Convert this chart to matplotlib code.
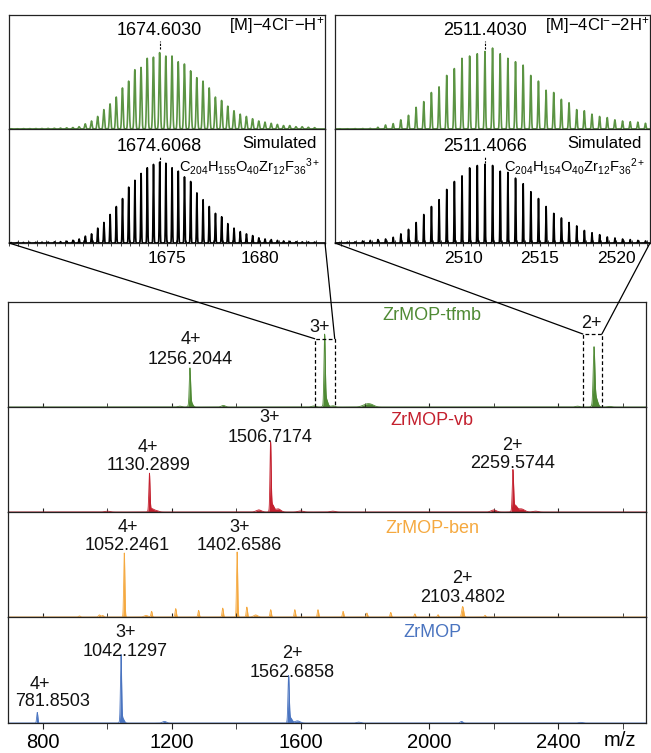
import numpy as np
import matplotlib
matplotlib.use('Agg')
import matplotlib.pyplot as plt
from matplotlib.patches import ConnectionPatch
from matplotlib.ticker import MultipleLocator, FixedLocator

plt.rcParams['font.family'] = ['Liberation Sans', 'DejaVu Sans']
plt.rcParams['mathtext.fontset'] = 'custom'
plt.rcParams['mathtext.rm'] = 'Liberation Sans'
plt.rcParams['mathtext.it'] = 'Liberation Sans:italic'
plt.rcParams['mathtext.bf'] = 'Liberation Sans:bold'

# ---------------- data ----------------
names = ['ZrMOP-tfmb', 'ZrMOP-vb', 'ZrMOP-ben', 'ZrMOP']
colors = ['#4f8a34', '#c4202e', '#f5a940', '#4a74c0']

# peak m/z, height, width (sigma, m/z)
tfmb_mz = [1256.2, 1259, 1674.6, 1679, 2511.4, 2516, 1225, 1360, 1640, 1700, 1805, 1820, 2460, 2560]
tfmb_h = [0.33, 0.05, 0.64, 0.08, 0.50, 0.10, 0.008, 0.015, 0.01, 0.012, 0.025, 0.015, 0.008, 0.006]
tfmb_w = [2.0, 5, 2.0, 5, 2.5, 6, 6, 6, 6, 6, 12, 10, 6, 6]

vb_mz = [1130.3, 1136, 1506.7, 1512, 1530, 2259.6, 2266, 2285, 1000, 1150, 1470, 1600, 1700, 2200, 2330]
vb_h = [0.35, 0.03, 0.63, 0.07, 0.03, 0.37, 0.06, 0.03, 0.008, 0.015, 0.02, 0.01, 0.008, 0.02, 0.008]
vb_w = [1.8, 6, 1.8, 5, 8, 2.0, 6, 10, 8, 8, 8, 8, 8, 8, 8]

ben_mz = [1052.2, 1402.7, 2103.5, 913, 975, 985, 1137, 1212, 1283, 1358, 1433,
          1507, 1582, 1654, 1732, 1806, 1880, 1955, 2027, 2173, 1120, 1460]
ben_h = [0.61, 0.62, 0.10, 0.01, 0.02, 0.015, 0.054, 0.08, 0.063, 0.085, 0.095,
         0.07, 0.07, 0.07, 0.054, 0.038, 0.044, 0.03, 0.022, 0.016, 0.015, 0.02]
ben_w = [1.8, 1.8, 3.0, 3, 3, 3, 2, 2, 2, 2, 2,
         2, 2, 2, 2, 2, 2, 2, 2, 2, 6, 6]

zr_mz = [781.9, 1042.1, 1046, 1562.7, 1568, 1590, 1177, 1780, 2100, 2470]
zr_h = [0.10, 0.61, 0.05, 0.42, 0.05, 0.02, 0.015, 0.008, 0.015, 0.006]
zr_w = [1.8, 1.8, 5, 2.0, 5, 8, 6, 6, 4, 6]

peak_mz = [tfmb_mz, vb_mz, ben_mz, zr_mz]
peak_h = [tfmb_h, vb_h, ben_h, zr_h]
peak_w = [tfmb_w, vb_w, ben_w, zr_w]

# annotations: (charge, value text, x, y charge, y value)
ann_tfmb = [('4+', '1256.2044', 1258, 0.64, 0.455), ('3+', '', 1658, 0.76, 0), ('2+', '', 2502, 0.80, 0)]
ann_vb = [('4+', '1130.2899', 1127, 0.615, 0.44), ('3+', '1506.7174', 1505, 0.90, 0.71),
          ('2+', '2259.5744', 2257, 0.635, 0.46)]
ann_ben = [('4+', '1052.2461', 1062, 0.85, 0.68), ('3+', '1402.6586', 1410, 0.85, 0.68),
           ('2+', '2103.4802', 2104, 0.37, 0.19)]
ann_zr = [('3+', '1042.1297', 1056, 0.85, 0.67), ('2+', '1562.6858', 1573, 0.66, 0.48),
          ('4+', '', 790, 0.36, 0), ('', '781.8503', 828, 0, 0.20)]
anns = [ann_tfmb, ann_vb, ann_ben, ann_zr]
name_y = [0.876, 0.875, 0.84, 0.85]

# isotope envelopes
left_center_exp = 1674.6030
left_center_sim = 1674.6068
left_k = np.arange(-24, 26)
left_exp = [0.002, 0.002, 0.003, 0.003, 0.004, 0.004, 0.005, 0.006, 0.008, 0.010, 0.013,
            0.02, 0.045, 0.07, 0.11, 0.17, 0.22, 0.28, 0.36, 0.42, 0.52, 0.54, 0.62, 0.63,
            0.67, 0.64, 0.64, 0.59, 0.57, 0.51, 0.45, 0.42, 0.36, 0.28, 0.25, 0.20, 0.16,
            0.13, 0.11, 0.09, 0.07, 0.06, 0.05, 0.04, 0.03, 0.03, 0.02, 0.02, 0.015, 0.012]
left_sim = [0.004, 0.004, 0.005, 0.005, 0.006, 0.007, 0.008, 0.010, 0.012, 0.016, 0.024,
            0.035, 0.06, 0.08, 0.13, 0.18, 0.25, 0.32, 0.39, 0.49, 0.55, 0.61, 0.66, 0.69,
            0.71, 0.70, 0.66, 0.63, 0.58, 0.54, 0.44, 0.38, 0.32, 0.26, 0.23, 0.17, 0.13,
            0.10, 0.08, 0.065, 0.045, 0.035, 0.03, 0.023, 0.018, 0.015, 0.012, 0.01, 0.009, 0.008]

right_center_exp = 2511.4030
right_center_sim = 2511.4066
right_k = np.arange(-19, 22)
right_exp = [0.002, 0.002, 0.003, 0.004, 0.005, 0.015, 0.035, 0.047, 0.08, 0.12, 0.19,
             0.24, 0.32, 0.37, 0.47, 0.53, 0.62, 0.64, 0.66, 0.68, 0.71, 0.66, 0.62, 0.59,
             0.56, 0.47, 0.42, 0.34, 0.32, 0.26, 0.23, 0.17, 0.16, 0.13, 0.11, 0.10, 0.08,
             0.07, 0.064, 0.06, 0.05]
right_sim = [0.005, 0.007, 0.01, 0.018, 0.023, 0.03, 0.035, 0.05, 0.08, 0.12, 0.18,
             0.25, 0.32, 0.38, 0.47, 0.54, 0.59, 0.66, 0.68, 0.69, 0.68, 0.63, 0.62, 0.57,
             0.52, 0.45, 0.39, 0.32, 0.26, 0.22, 0.18, 0.15, 0.11, 0.09, 0.073, 0.053, 0.044,
             0.035, 0.03, 0.023, 0.018]


def profile(x, centers, heights, widths):
    y = np.zeros_like(x)
    for c, h, w in zip(centers, heights, widths):
        y += h * np.exp(-0.5 * ((x - c) / w) ** 2)
    return y


W, H = 651, 753
def box(x0, y0, x1, y1):
    return [x0 / W, 1 - y1 / H, (x1 - x0) / W, (y1 - y0) / H]

fig = plt.figure(figsize=(6.51, 7.53), dpi=100)
edge = '#222222'
fs = 13

# ---------------- bottom panels ----------------
rows = [(302, 407), (407, 512), (512, 617), (617, 723)]
axs = []
x = np.linspace(691, 2673, 8000)
for i in range(4):
    ax = fig.add_axes(box(8, rows[i][0], 646, rows[i][1]))
    y = profile(x, peak_mz[i], peak_h[i], peak_w[i])
    ax.fill_between(x, 0, y, color=colors[i], lw=0)
    ax.plot(x, y, color=colors[i], lw=0.6)
    ax.set_xlim(691, 2673)
    ax.set_ylim(0, 1)
    ax.set_yticks([])
    ax.xaxis.set_major_locator(MultipleLocator(400))
    ax.xaxis.set_minor_locator(MultipleLocator(200))
    for s in ax.spines.values():
        s.set_color(edge)
        s.set_linewidth(0.9)
    ax.text(2008, name_y[i], names[i], color=colors[i], fontsize=fs, ha='center', va='center')
    for ch, val, xp, yc, yv in anns[i]:
        if ch:
            ax.text(xp, yc, ch, fontsize=fs, ha='center', va='center', color='#111111')
        if val:
            ax.text(xp, yv, val, fontsize=fs, ha='center', va='center', color='#111111')
    if i < 3:
        ax.tick_params(axis='x', which='both', direction='in', length=3, labelbottom=False, color=edge)
    else:
        ax.tick_params(axis='x', which='both', direction='out', length=4, labelsize=14.5,
                       pad=3, color=edge)
        ax.set_xticks([800, 1200, 1600, 2000, 2400])
    axs.append(ax)

fig.text(620 / W, 1 - 740 / H, 'm/z', fontsize=14.5, ha='center', va='center')

# dashed boxes in tfmb panel
box3 = (1644, 1706, 0.65)
box2 = (2477, 2536, 0.695)
for x0, x1, top in [box3, box2]:
    axs[0].plot([x0, x0, x1, x1], [0, top, top, 0], color='k', lw=0.9, dashes=(3, 2))

# ---------------- insets ----------------
inset_green = '#5b9443'
def inset(xpix, center_exp, center_sim, k, exp, sim, z, xlim, majors, label_exp, formula):
    ax_e = fig.add_axes(box(xpix[0], 15, xpix[1], 129))
    ax_s = fig.add_axes(box(xpix[0], 129, xpix[1], 243))
    xx = np.linspace(xlim[0], xlim[1], 8000)
    ye = profile(xx, center_exp + k / z, exp, [0.035] * len(exp))
    ys = profile(xx, center_sim + k / z, sim, [0.02] * len(sim))
    ax_e.plot(xx, ye, color=inset_green, lw=1.2)
    ax_s.plot(xx, ys, color='k', lw=1.2)
    for a in (ax_e, ax_s):
        a.set_xlim(*xlim)
        a.set_ylim(0, 1)
        a.set_yticks([])
        for s in a.spines.values():
            s.set_color(edge)
            s.set_linewidth(0.9)
    ax_e.set_xticks([])
    ax_s.xaxis.set_major_locator(FixedLocator(majors))
    ax_s.xaxis.set_minor_locator(MultipleLocator(0.5))
    ax_s.tick_params(axis='x', which='both', direction='inout', length=5, labelsize=12.5,
                     pad=3, color=edge)
    ax_e.plot([center_exp, center_exp], [0.70, 0.77], color='k', lw=0.8, dashes=(2, 1.2))
    ax_s.plot([center_sim, center_sim], [0.70, 0.76], color='k', lw=0.8, dashes=(2, 1.2))
    ax_e.text(center_exp, 0.865, '%.4f' % center_exp, fontsize=fs, ha='center', va='center')
    ax_s.text(center_sim, 0.845, '%.4f' % center_sim, fontsize=fs, ha='center', va='center')
    ax_e.text(0.997, 0.905, label_exp, fontsize=12, ha='right', va='center', transform=ax_e.transAxes)
    ax_s.text(0.975, 0.87, 'Simulated', fontsize=12, ha='right', va='center', transform=ax_s.transAxes)
    ax_s.text(0.985, 0.67, formula, fontsize=10.5, ha='right', va='center', transform=ax_s.transAxes)
    return ax_s

axL = inset((9, 325), left_center_exp, left_center_sim, left_k, left_exp, left_sim, 3,
            (1666.5, 1683.5), [1675, 1680], r'[M]$-$4Cl$^{-}$$-$H$^{+}$',
            r'C$_{204}$H$_{155}$O$_{40}$Zr$_{12}$F$_{36}$$^{3+}$')
axR = inset((335, 650), right_center_exp, right_center_sim, right_k, right_exp, right_sim, 2,
            (2501.6, 2522.2), [2510, 2515, 2520], r'[M]$-$4Cl$^{-}$$-$2H$^{+}$',
            r'C$_{204}$H$_{154}$O$_{40}$Zr$_{12}$F$_{36}$$^{2+}$')

# ---------------- connecting lines ----------------
links = [(axL, (0, 0), (box3[0], box3[2])), (axL, (1, 0), (box3[1], box3[2])),
         (axR, (0, 0), (box2[0], box2[2])), (axR, (1, 0), (box2[1], box2[2]))]
for a, pa, pb in links:
    con = ConnectionPatch(xyA=pa, coordsA=a.transAxes, xyB=pb, coordsB=axs[0].transData,
                          color='k', lw=0.9)
    fig.add_artist(con)

fig.savefig('out.png', dpi=100)
